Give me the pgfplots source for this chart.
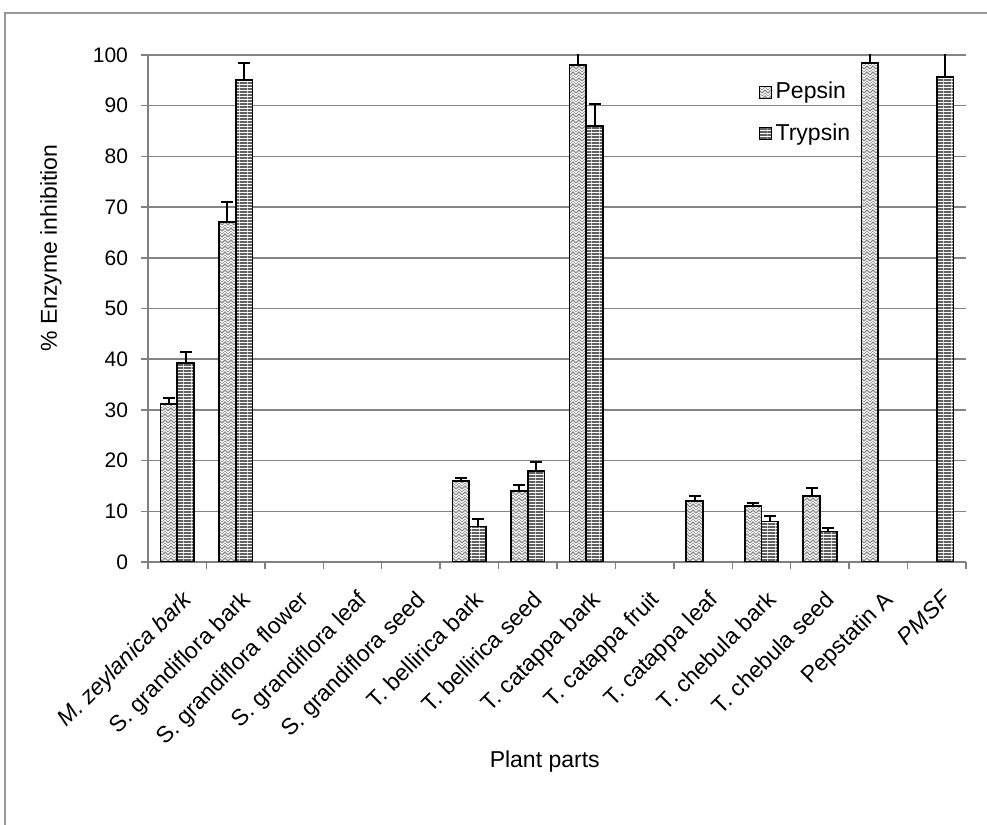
\documentclass[border=0pt]{standalone}
\usepackage{pgfplots}
\pgfplotsset{compat=1.18}
\usepackage{fontspec}
\setmainfont{Liberation Sans}
\usetikzlibrary{patterns,patterns.meta}

\tikzdeclarepattern{
  name=herring,
  type=uncolored,
  bounding box={(-0.2pt,-0.2pt) and (3.2pt,3.2pt)},
  tile size={(3pt,3pt)},
  code={
    \draw[line width=0.55pt] (0pt,0pt) -- (1.5pt,1.5pt) -- (3pt,0pt);
    \draw[line width=0.3pt] (0pt,1.5pt) -- (1.5pt,3pt) -- (3pt,1.5pt);
  }
}
\tikzdeclarepattern{
  name=hstripes,
  type=uncolored,
  bounding box={(0pt,0pt) and (4pt,1.7pt)},
  tile size={(4pt,1.7pt)},
  code={
    \fill (-0.1pt,0pt) rectangle (4.1pt,1.05pt);
  }
}

\begin{document}
\begin{tikzpicture}[x=1pt,y=1pt]
\useasboundingbox (0,0) rectangle (493.5,412.5);
\draw[black!40, line width=0.9pt] (2.5,0) -- (2.5,406) -- (493.5,406);
\begin{axis}[
  at={(74pt,131.5pt)}, anchor=south west,
  scale only axis, width=409pt, height=253.5pt,
  ymin=0, ymax=100, ytick={0,10,...,100},
  xmin=-0.5, xmax=13.5,
  xtick={0,...,13},
  xticklabels={{\itshape M. zeylanica bark}, S. grandiflora bark, S. grandiflora flower, S. grandiflora leaf, S. grandiflora seed, T. bellirica bark, T. bellirica seed, T. catappa bark, T. catappa fruit, T. catappa leaf, T. chebula bark, T. chebula seed, Pepstatin A, {\itshape PMSF}},
  minor xtick={-0.5,0.5,...,13.5},
  major x tick style={draw=none},
  minor x tick style={black!50, line width=0.75pt},
  minor tick length=3.5pt,
  major tick length=3.5pt,
  tick align=outside,
  y tick style={black!50, line width=0.75pt},
  axis x line*=bottom, axis y line*=left,
  axis line style={black!50, line width=0.75pt},
  ymajorgrids, major grid style={black!48, line width=0.75pt},
  /pgf/number format/assume math mode=true,
  yticklabel style={font=\fontsize{10.5}{12}\selectfont, anchor=east, xshift=-3pt},
  xticklabel style={font=\fontsize{11.5}{13}\selectfont, yshift=-10pt, xshift=2pt, rotate=45, anchor=north east, inner sep=0pt},
  ylabel={\% Enzyme inhibition},
  ylabel style={at={(axis description cs:-0.1186,0.619)}, anchor=center, rotate=0, font=\fontsize{11.5}{13}\selectfont},
  xlabel={Plant parts},
  xlabel style={at={(axis description cs:0.485,-0.394)}, anchor=center, font=\fontsize{11.5}{13}\selectfont},
  ybar=0pt, bar width=8.4pt,
  legend style={draw=none, fill=none, at={(axis description cs:0.746,0.955)}, anchor=north west, inner sep=0pt, row sep=7pt, font=\fontsize{11.5}{13}\selectfont, /tikz/every even column/.append style={column sep=3pt}},
  legend cell align=left,
  legend image code/.code={\draw[#1, line width=0.5pt] (0pt,-3pt) rectangle (6pt,3pt);},
  error bars/y dir=plus, error bars/y explicit,
  error bars/error bar style={black, line width=1pt},
  error bars/error mark options={rotate=90, mark size=3pt, line width=1pt, black},
]
\addplot[draw=black, line width=0.9pt, fill=white, postaction={pattern=herring, pattern color=black!45}]
coordinates {
(0,31.2) +- (0,1.2)
(1,67) +- (0,4)
(5,16) +- (0,0.5)
(6,14) +- (0,1.1)
(7,98) +- (0,3)
(9,12) +- (0,1)
(10,11) +- (0,0.7)
(11,13) +- (0,1.5)
(12,98.4) +- (0,3)
};
\addlegendentry{Pepsin}
\addplot[draw=black, line width=0.9pt, fill=white, postaction={pattern=hstripes, pattern color=black!62}]
coordinates {
(0,39.2) +- (0,2.2)
(1,95) +- (0,3.5)
(5,7) +- (0,1.5)
(6,18) +- (0,1.7)
(7,86) +- (0,4.3)
(10,8) +- (0,1)
(11,6) +- (0,0.7)
(13,95.6) +- (0,5)
};
\addlegendentry{Trypsin}
\end{axis}
\end{tikzpicture}
\end{document}
